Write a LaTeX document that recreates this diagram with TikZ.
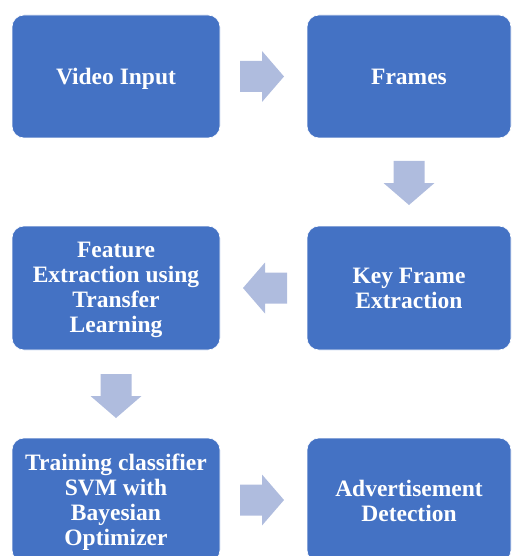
\documentclass[tikz,border=0pt]{standalone}
\usepackage{fontspec}
\setmainfont{Liberation Serif}
\usetikzlibrary{calc}
\definecolor{boxblue}{HTML}{4472C4}
\definecolor{arrowblue}{HTML}{AFBCDE}
\tikzset{
  stage/.style={rounded corners=12pt, fill=boxblue, draw=white, line width=0.6pt,
    inner sep=0pt},
  stagetext/.style={text=white, align=center, inner sep=0pt,
    font=\fontsize{23.5}{25}\selectfont\bfseries},
  % captions whose last line has a descender sit a little lower
  desc/.style={yshift=-2pt},
  wide/.style={minimum width=208pt},
  narrow/.style={minimum width=204pt},
  blockarr/.pic={
    \fill[arrowblue] (-22,-15.5) -- (0,-15.5) -- (0,-25.5) -- (22,0)
      -- (0,25.5) -- (0,15.5) -- (-22,15.5) -- cycle;
  }
}
\begin{document}
\begin{tikzpicture}[x=1pt, y=-1pt]
  \useasboundingbox (0,0) rectangle (512,556);
  \clip (0,0) rectangle (512,556);

  % process stages
  \node[stage, wide,   minimum height=123pt] (vid)  at (116,76.5) {};
  \node[stage, narrow, minimum height=123pt] (frm)  at (409,76.5) {};
  \node[stage, narrow, minimum height=124pt] (key)  at (409,288)  {};
  \node[stage, wide,   minimum height=124pt] (feat) at (116,288)  {};
  \node[stage, wide,   minimum height=124pt] (trn)  at (116,500)  {};
  \node[stage, narrow, minimum height=124pt] (adv)  at (409,500)  {};

  % stage captions
  \node[stagetext, desc] (vidt)  at (vid.center)  {Video Input};
  \node[stagetext]       (frmt)  at (frm.center)  {Frames};
  \node[stagetext]       (keyt)  at (key.center)  {Key Frame\\Extraction};
  \node[stagetext, desc] (featt) at (feat.center) {Feature\\Extraction using\\Transfer\\Learning};
  \node[stagetext, desc] (trnt)  at (trn.center)  {Training classifier\\SVM with\\Bayesian\\Optimizer};
  \node[stagetext, yshift=-1pt] (advt) at (adv.center) {Advertisement\\Detection};

  % block arrows between consecutive stages
  \coordinate (a1) at ($(vid.east)!0.5!(frm.west)$);
  \coordinate (a2) at ($(frm.south)!0.5!(key.north)$);
  \coordinate (a3) at ($(key.west)!0.5!(feat.east)$);
  \coordinate (a4) at ($(feat.south)!0.5!(trn.north)$);
  \coordinate (a5) at ($(trn.east)!0.5!(adv.west)$);

  \pic at ([xshift=-1.5pt]a1) {blockarr};
  \pic[rotate=-90] at ([yshift=-1pt]a2) {blockarr};
  \pic[rotate=180] at ([xshift=1.5pt]a3) {blockarr};
  \pic[rotate=-90] at ([yshift=-2pt]a4) {blockarr};
  \pic at ([xshift=-1.5pt]a5) {blockarr};
\end{tikzpicture}
\end{document}
